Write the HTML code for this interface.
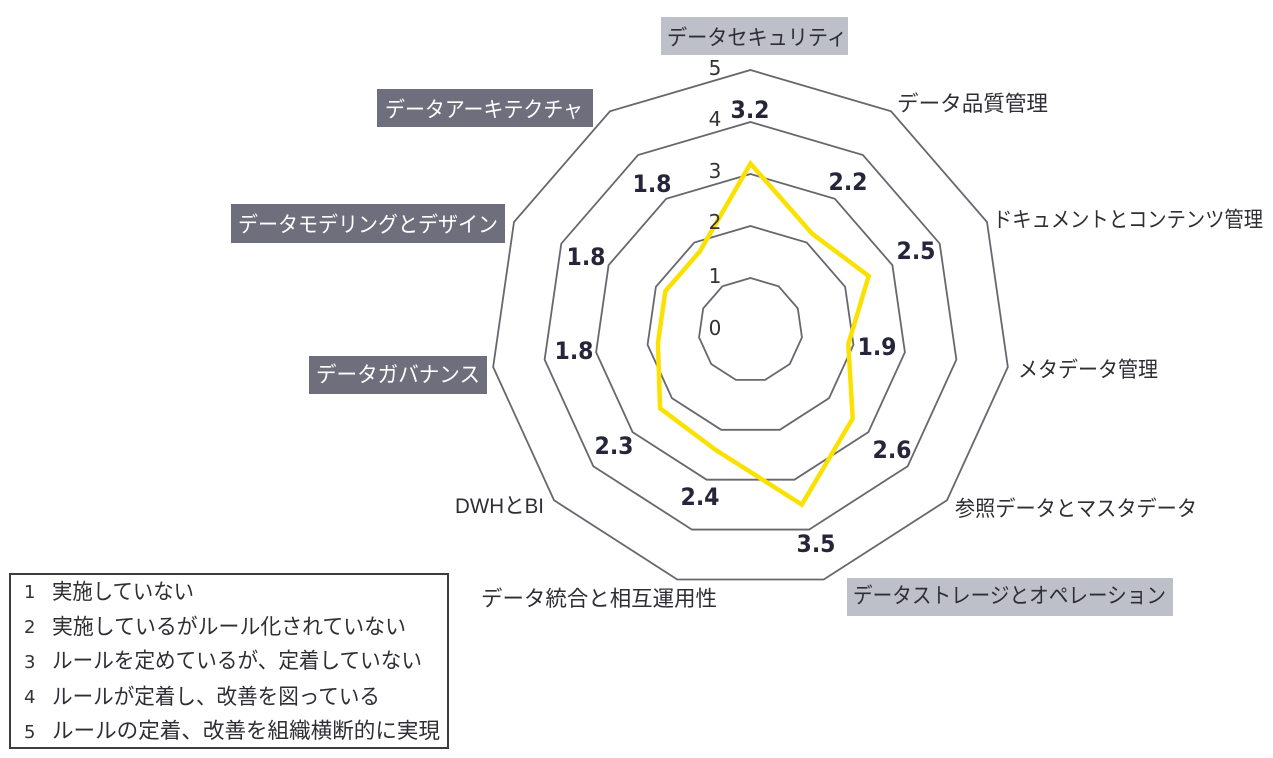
<!DOCTYPE html>
<html lang="ja">
<head>
<meta charset="utf-8">
<style>
html,body{margin:0;padding:0;background:#fff;width:1273px;height:758px;overflow:hidden}
svg{display:block}
.j{font-family:"Liberation Sans","Noto Sans CJK JP",sans-serif;font-size:21.5px;fill:#2e2e34;}
.n{font-family:"DejaVu Sans",sans-serif;font-size:24px;font-weight:bold;fill:#26263a;text-anchor:middle}
.s{font-family:"DejaVu Sans",sans-serif;font-size:20px;fill:#333;text-anchor:middle}
.l{font-family:"DejaVu Sans",sans-serif;font-size:18px;fill:#333}
.r{fill:none;stroke:#67676e;stroke-width:1.8}
</style>
</head>
<body>
<svg width="1273" height="758" viewBox="0 0 1273 758" xmlns="http://www.w3.org/2000/svg">
<g class="r">
<polygon vector-effect="non-scaling-stroke" transform="translate(750.5 330) scale(52)" points="0,-1 .5406,-.8413 .9096,-.4154 .9898,.1423 .7557,.6549 .2817,.9595 -.2817,.9595 -.7557,.6549 -.9898,.1423 -.9096,-.4154 -.5406,-.8413"/>
<polygon vector-effect="non-scaling-stroke" transform="translate(750.5 330) scale(104)" points="0,-1 .5406,-.8413 .9096,-.4154 .9898,.1423 .7557,.6549 .2817,.9595 -.2817,.9595 -.7557,.6549 -.9898,.1423 -.9096,-.4154 -.5406,-.8413"/>
<polygon vector-effect="non-scaling-stroke" transform="translate(750.5 330) scale(156)" points="0,-1 .5406,-.8413 .9096,-.4154 .9898,.1423 .7557,.6549 .2817,.9595 -.2817,.9595 -.7557,.6549 -.9898,.1423 -.9096,-.4154 -.5406,-.8413"/>
<polygon vector-effect="non-scaling-stroke" transform="translate(750.5 330) scale(208)" points="0,-1 .5406,-.8413 .9096,-.4154 .9898,.1423 .7557,.6549 .2817,.9595 -.2817,.9595 -.7557,.6549 -.9898,.1423 -.9096,-.4154 -.5406,-.8413"/>
<polygon vector-effect="non-scaling-stroke" transform="translate(750.5 330) scale(260)" points="0,-1 .5406,-.8413 .9096,-.4154 .9898,.1423 .7557,.6549 .2817,.9595 -.2817,.9595 -.7557,.6549 -.9898,.1423 -.9096,-.4154 -.5406,-.8413"/>
</g>
<polygon fill="none" stroke="#fae100" stroke-width="4.5" stroke-linejoin="miter" points="750.5,163.6 812.3,233.8 868.7,276 848.3,344.1 852.7,418.5 801.8,504.6 715.3,449.7 660.1,408.3 657.9,343.3 665.4,291.1 699.9,251.3"/>

<g class="s">
<text x="715" y="75">5</text>
<text x="715" y="126">4</text>
<text x="715" y="178">3</text>
<text x="715" y="229">2</text>
<text x="715" y="283">1</text>
<text x="715" y="335">0</text>
</g>

<g class="n">
<text x="750" y="118" textLength="39" lengthAdjust="spacingAndGlyphs">3.2</text>
<text x="848" y="190" textLength="39" lengthAdjust="spacingAndGlyphs">2.2</text>
<text x="916" y="259" textLength="39" lengthAdjust="spacingAndGlyphs">2.5</text>
<text x="877" y="355" textLength="39" lengthAdjust="spacingAndGlyphs">1.9</text>
<text x="892" y="458" textLength="39" lengthAdjust="spacingAndGlyphs">2.6</text>
<text x="816" y="552" textLength="39" lengthAdjust="spacingAndGlyphs">3.5</text>
<text x="700" y="505" textLength="39" lengthAdjust="spacingAndGlyphs">2.4</text>
<text x="614" y="454" textLength="39" lengthAdjust="spacingAndGlyphs">2.3</text>
<text x="574" y="359" textLength="39" lengthAdjust="spacingAndGlyphs">1.8</text>
<text x="586" y="265" textLength="39" lengthAdjust="spacingAndGlyphs">1.8</text>
<text x="652" y="192" textLength="39" lengthAdjust="spacingAndGlyphs">1.8</text>
</g>

<rect x="661" y="17" width="187" height="38" fill="#bdbfc9"/>
<rect x="847" y="578" width="326" height="38" fill="#bdbfc9"/>
<rect x="377" y="89" width="216" height="38" fill="#6e6e7c"/>
<rect x="231" y="204" width="274" height="39" fill="#6e6e7c"/>
<rect x="309" y="356" width="178" height="38" fill="#6e6e7c"/>

<g class="j">
<text x="667" y="45" textLength="180" lengthAdjust="spacingAndGlyphs">データセキュリティ</text>
<text x="897" y="111" textLength="151" lengthAdjust="spacingAndGlyphs">データ品質管理</text>
<text x="993" y="227" textLength="270" lengthAdjust="spacingAndGlyphs">ドキュメントとコンテンツ管理</text>
<text x="1018" y="377" textLength="140" lengthAdjust="spacingAndGlyphs">メタデータ管理</text>
<text x="955" y="516" textLength="242" lengthAdjust="spacingAndGlyphs">参照データとマスタデータ</text>
<text x="853" y="603" textLength="313" lengthAdjust="spacingAndGlyphs">データストレージとオペレーション</text>
<text x="481" y="606" textLength="236" lengthAdjust="spacingAndGlyphs">データ統合と相互運用性</text>
<text x="455" y="513" textLength="89" lengthAdjust="spacingAndGlyphs">DWHとBI</text>
<text x="385" y="117" textLength="198" lengthAdjust="spacingAndGlyphs" style="fill:#fff">データアーキテクチャ</text>
<text x="238" y="232" textLength="260" lengthAdjust="spacingAndGlyphs" style="fill:#fff">データモデリングとデザイン</text>
<text x="316" y="382" textLength="164" lengthAdjust="spacingAndGlyphs" style="fill:#fff">データガバナンス</text>
</g>

<rect x="10" y="574" width="438" height="174" fill="#fff" stroke="#3c3c44" stroke-width="2"/>
<g class="l">
<text x="24" y="598">1</text>
<text x="24" y="633">2</text>
<text x="24" y="668">3</text>
<text x="24" y="703">4</text>
<text x="24" y="738">5</text>
</g>
<g class="j">
<text x="52" y="599" textLength="142" lengthAdjust="spacingAndGlyphs">実施していない</text>
<text x="52" y="634" textLength="354" lengthAdjust="spacingAndGlyphs">実施しているがルール化されていない</text>
<text x="52" y="668" textLength="370" lengthAdjust="spacingAndGlyphs">ルールを定めているが、定着していない</text>
<text x="52" y="704" textLength="328" lengthAdjust="spacingAndGlyphs">ルールが定着し、改善を図っている</text>
<text x="52" y="738" textLength="388" lengthAdjust="spacingAndGlyphs">ルールの定着、改善を組織横断的に実現</text>
</g>
</svg>
</body>
</html>
